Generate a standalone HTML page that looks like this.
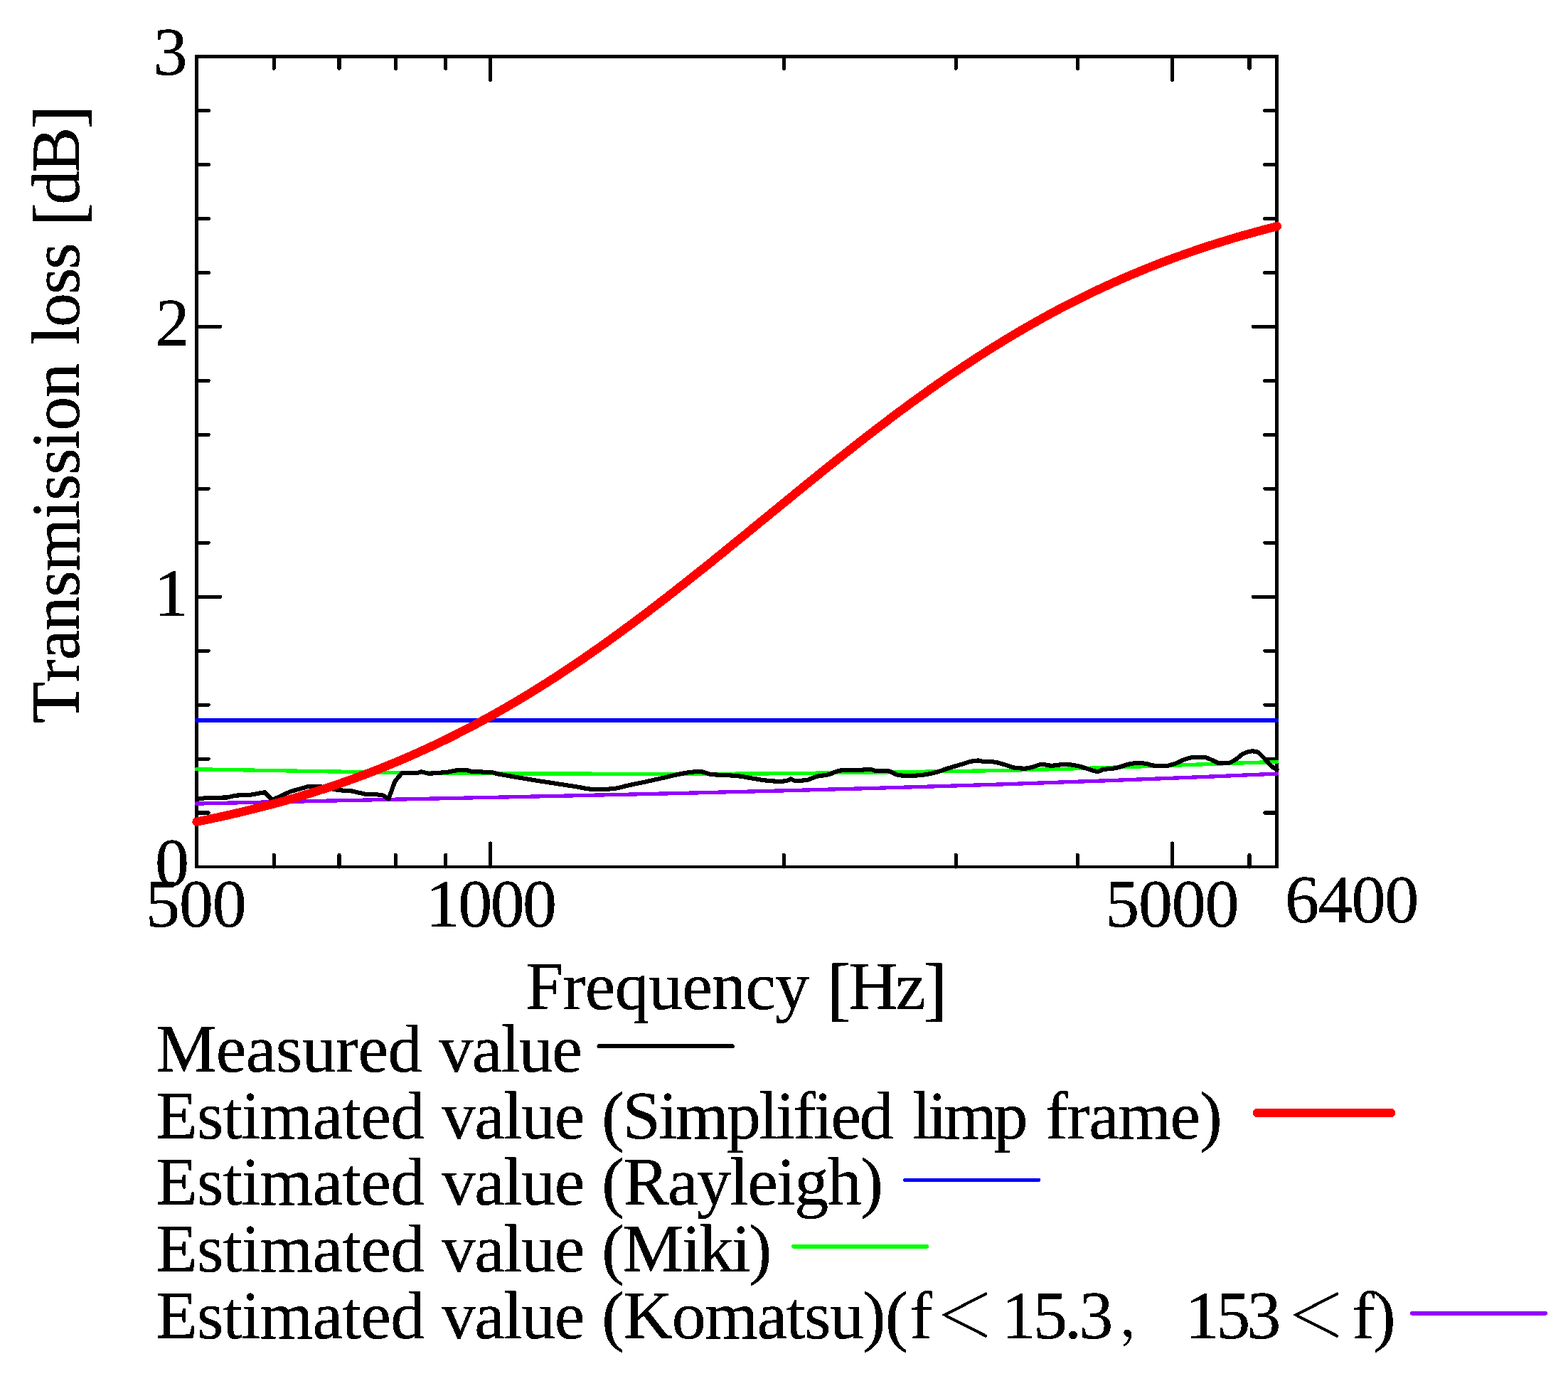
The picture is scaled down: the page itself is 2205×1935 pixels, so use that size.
<!DOCTYPE html>
<html lang="en"><head><meta charset="utf-8"><title>Transmission loss</title>
<style>
html,body{margin:0;padding:0;background:#fff;}
body{width:2205px;height:1935px;overflow:hidden;}
svg{display:block;}
text{font-family:"Liberation Serif","Noto Serif CJK SC",serif;font-size:96px;fill:#000;font-kerning:none;font-variant-ligatures:none;white-space:pre;}
.cjk{font-family:"Noto Serif CJK SC","Noto Serif CJK JP","Liberation Serif",serif;letter-spacing:0;}
</style></head><body>
<svg width="2205" height="1935" viewBox="0 0 2205 1935" shape-rendering="crispEdges">
<rect width="2205" height="1935" fill="#fff"/>
<g stroke="#000" fill="none">
<rect x="276.5" y="79.5" width="1519.0" height="1139.5" stroke-width="4.9" stroke-linejoin="miter"/>
<clipPath id="fr"><rect x="274.05" y="77.05" width="1523.9" height="1144.4"/></clipPath>
<path clip-path="url(#fr)" stroke-width="5.2" stroke-linecap="round" d="M276.5,1143.0h16.6 M1795.5,1143.0h-16.6 M276.5,1067.1h16.6 M1795.5,1067.1h-16.6 M276.5,991.1h16.6 M1795.5,991.1h-16.6 M276.5,915.1h16.6 M1795.5,915.1h-16.6 M276.5,839.2h33.0 M1795.5,839.2h-33.0 M276.5,763.2h16.6 M1795.5,763.2h-16.6 M276.5,687.2h16.6 M1795.5,687.2h-16.6 M276.5,611.3h16.6 M1795.5,611.3h-16.6 M276.5,535.3h16.6 M1795.5,535.3h-16.6 M276.5,459.3h33.0 M1795.5,459.3h-33.0 M276.5,383.4h16.6 M1795.5,383.4h-16.6 M276.5,307.4h16.6 M1795.5,307.4h-16.6 M276.5,231.4h16.6 M1795.5,231.4h-16.6 M276.5,155.5h16.6 M1795.5,155.5h-16.6 M385.1,79.5v16.6 M385.1,1219.0v-16.6 M477.0,79.5v16.6 M477.0,1219.0v-16.6 M556.5,79.5v16.6 M556.5,1219.0v-16.6 M626.7,79.5v16.6 M626.7,1219.0v-16.6 M689.5,79.5v33.0 M689.5,1219.0v-33.0 M1102.5,79.5v16.6 M1102.5,1219.0v-16.6 M1344.1,79.5v16.6 M1344.1,1219.0v-16.6 M1515.5,79.5v16.6 M1515.5,1219.0v-16.6 M1648.4,79.5v33.0 M1648.4,1219.0v-33.0 M1757.0,79.5v16.6 M1757.0,1219.0v-16.6"/>
</g>
<g fill="none" stroke-linecap="round" stroke-linejoin="round">
<path stroke="#9400ff" stroke-width="5.3" d="M276.5,1130.1 L302.2,1129.5 L328.0,1129.0 L353.7,1128.4 L379.5,1127.9 L405.2,1127.3 L431.0,1126.8 L456.7,1126.2 L482.5,1125.7 L508.2,1125.2 L534.0,1124.6 L559.7,1124.1 L585.4,1123.6 L611.2,1123.0 L636.9,1122.5 L662.7,1121.9 L688.4,1121.4 L714.2,1120.9 L739.9,1120.3 L765.7,1119.7 L791.4,1119.2 L817.2,1118.6 L842.9,1118.0 L868.7,1117.5 L894.4,1116.9 L920.1,1116.3 L945.9,1115.7 L971.6,1115.1 L997.4,1114.5 L1023.1,1113.8 L1048.9,1113.2 L1074.6,1112.5 L1100.4,1111.9 L1126.1,1111.2 L1151.9,1110.5 L1177.6,1109.8 L1203.3,1109.1 L1229.1,1108.4 L1254.8,1107.6 L1280.6,1106.9 L1306.3,1106.1 L1332.1,1105.3 L1357.8,1104.5 L1383.6,1103.7 L1409.3,1102.9 L1435.1,1102.0 L1460.8,1101.1 L1486.6,1100.2 L1512.3,1099.3 L1538.0,1098.4 L1563.8,1097.5 L1589.5,1096.5 L1615.3,1095.5 L1641.0,1094.5 L1666.8,1093.5 L1692.5,1092.5 L1718.3,1091.4 L1744.0,1090.3 L1769.8,1089.2 L1795.5,1088.1"/>
<path stroke="#00ff00" stroke-width="5.3" d="M276.5,1081.8 L302.2,1082.2 L328.0,1082.6 L353.7,1083.1 L379.5,1083.5 L405.2,1083.9 L431.0,1084.4 L456.7,1084.8 L482.5,1085.2 L508.2,1085.6 L534.0,1086.0 L559.7,1086.4 L585.4,1086.7 L611.2,1087.0 L636.9,1087.3 L662.7,1087.5 L688.4,1087.7 L714.2,1087.8 L739.9,1087.9 L765.7,1088.0 L791.4,1088.1 L817.2,1088.1 L842.9,1088.2 L868.7,1088.2 L894.4,1088.3 L920.1,1088.3 L945.9,1088.3 L971.6,1088.3 L997.4,1088.3 L1023.1,1088.2 L1048.9,1088.1 L1074.6,1087.9 L1100.4,1087.7 L1126.1,1087.4 L1151.9,1087.1 L1177.6,1086.8 L1203.3,1086.5 L1229.1,1086.1 L1254.8,1085.8 L1280.6,1085.4 L1306.3,1085.1 L1332.1,1084.7 L1357.8,1084.3 L1383.6,1083.9 L1409.3,1083.4 L1435.1,1082.9 L1460.8,1082.2 L1486.6,1081.6 L1512.3,1080.8 L1538.0,1080.0 L1563.8,1079.2 L1589.5,1078.4 L1615.3,1077.5 L1641.0,1076.6 L1666.8,1075.7 L1692.5,1074.8 L1718.3,1073.9 L1744.0,1073.0 L1769.8,1072.2 L1795.5,1071.4"/>
<path stroke="#0000ff" stroke-width="5.6" d="M276.5,1012.9 H1795.5"/>
<path stroke="#000" stroke-width="6.1" d="M277.0,1123.6 L278.9,1123.6 L290.7,1121.8 L319.1,1121.5 L330.8,1118.6 L350.4,1118.1 L372.4,1114.1 L383.1,1124.9 L408.1,1113.2 L432.6,1106.3 L451.1,1106.3 L476.0,1111.2 L493.6,1112.2 L515.1,1117.0 L527.9,1117.0 L538.6,1118.5 L546.5,1123.4 L550.4,1112.6 L555.3,1098.9 L565.0,1087.2 L586.6,1087.2 L592.4,1085.2 L602.0,1087.7 L605.0,1087.6 L608.0,1087.5 L611.0,1087.3 L614.0,1087.1 L617.0,1086.9 L620.0,1086.6 L623.0,1086.3 L626.0,1086.0 L629.0,1085.7 L632.0,1085.2 L635.0,1084.6 L638.0,1084.0 L641.0,1083.5 L644.0,1083.3 L647.0,1083.3 L650.0,1083.3 L653.0,1083.3 L656.0,1083.3 L659.0,1083.6 L662.0,1084.6 L665.0,1085.2 L668.0,1085.2 L671.0,1085.2 L674.0,1085.2 L677.0,1085.3 L680.0,1085.9 L683.0,1086.1 L686.0,1085.9 L689.0,1085.7 L692.0,1086.0 L695.0,1086.9 L698.0,1087.8 L701.0,1088.5 L704.0,1089.1 L707.0,1089.6 L710.0,1090.1 L713.0,1090.6 L716.0,1091.1 L719.0,1091.7 L722.0,1092.2 L725.0,1092.7 L728.0,1093.2 L731.0,1093.7 L734.0,1094.2 L737.0,1094.7 L740.0,1095.2 L743.0,1095.7 L746.0,1096.2 L749.0,1096.7 L752.0,1097.2 L755.0,1097.7 L758.0,1098.2 L761.0,1098.7 L764.0,1099.1 L767.0,1099.6 L770.0,1100.1 L773.0,1100.5 L776.0,1101.0 L779.0,1101.4 L782.0,1101.9 L785.0,1102.4 L788.0,1102.8 L791.0,1103.3 L794.0,1103.8 L797.0,1104.2 L800.0,1104.7 L803.0,1105.2 L806.0,1105.6 L809.0,1106.1 L812.0,1106.6 L815.0,1107.1 L818.0,1107.7 L821.0,1108.3 L824.0,1108.9 L827.0,1109.3 L830.0,1109.6 L833.0,1109.7 L836.0,1109.8 L839.0,1109.9 L842.0,1110.0 L845.0,1110.0 L848.0,1110.0 L851.0,1109.9 L854.0,1109.7 L857.0,1109.5 L860.0,1109.3 L863.0,1109.1 L866.0,1108.6 L869.0,1108.1 L872.0,1107.4 L875.0,1106.6 L878.0,1105.8 L881.0,1105.0 L884.0,1104.3 L887.0,1103.7 L890.0,1103.1 L893.0,1102.4 L896.0,1101.8 L899.0,1101.2 L902.0,1100.6 L905.0,1100.0 L908.0,1099.3 L911.0,1098.7 L914.0,1098.0 L917.0,1097.4 L920.0,1096.7 L923.0,1096.0 L926.0,1095.3 L929.0,1094.6 L932.0,1094.0 L935.0,1093.3 L938.0,1092.6 L941.0,1091.8 L944.0,1091.1 L947.0,1090.4 L950.0,1089.7 L953.0,1089.1 L956.0,1088.5 L959.0,1087.9 L962.0,1087.3 L965.0,1086.8 L968.0,1086.3 L971.0,1085.9 L974.0,1085.6 L977.0,1085.4 L980.0,1085.2 L983.0,1085.1 L986.0,1085.1 L989.0,1085.7 L992.0,1086.6 L995.0,1087.7 L998.0,1088.6 L1001.0,1089.0 L1004.0,1089.3 L1007.0,1089.5 L1010.0,1089.6 L1013.0,1089.7 L1016.0,1089.9 L1019.0,1090.1 L1022.0,1090.2 L1025.0,1090.4 L1028.0,1090.5 L1031.0,1090.7 L1034.0,1090.9 L1037.0,1091.1 L1040.0,1091.5 L1043.0,1091.9 L1046.0,1092.4 L1049.0,1092.9 L1052.0,1093.5 L1055.0,1094.1 L1058.0,1094.6 L1061.0,1095.1 L1064.0,1095.5 L1067.0,1096.1 L1070.0,1096.6 L1073.0,1097.0 L1076.0,1097.4 L1079.0,1097.7 L1082.0,1098.0 L1085.0,1098.2 L1088.0,1098.5 L1091.0,1098.6 L1094.0,1098.8 L1097.0,1098.8 L1100.0,1098.7 L1103.0,1098.4 L1106.0,1098.0 L1109.0,1096.9 L1112.0,1095.3 L1115.0,1096.7 L1118.0,1098.2 L1121.0,1098.1 L1124.0,1098.0 L1127.0,1097.7 L1130.0,1097.4 L1133.0,1097.1 L1136.0,1096.6 L1139.0,1095.6 L1142.0,1094.3 L1145.0,1093.0 L1148.0,1092.0 L1151.0,1091.4 L1154.0,1090.9 L1157.0,1090.5 L1160.0,1090.1 L1163.0,1089.6 L1166.0,1088.9 L1169.0,1087.9 L1172.0,1086.5 L1175.0,1085.2 L1178.0,1084.4 L1181.0,1083.7 L1184.0,1083.1 L1187.0,1082.7 L1190.0,1082.6 L1193.0,1082.7 L1196.0,1083.0 L1199.0,1083.2 L1202.0,1083.2 L1205.0,1083.1 L1208.0,1082.9 L1211.0,1082.7 L1214.0,1082.5 L1217.0,1082.4 L1220.0,1082.3 L1223.0,1082.2 L1226.0,1082.4 L1229.0,1083.4 L1232.0,1084.1 L1235.0,1084.0 L1238.0,1083.8 L1241.0,1083.8 L1244.0,1083.9 L1247.0,1084.2 L1250.0,1084.5 L1253.0,1085.4 L1256.0,1086.9 L1259.0,1088.5 L1262.0,1089.7 L1265.0,1090.2 L1268.0,1090.5 L1271.0,1090.8 L1274.0,1090.9 L1277.0,1091.0 L1280.0,1091.0 L1283.0,1090.9 L1286.0,1090.7 L1289.0,1090.5 L1292.0,1090.2 L1295.0,1090.0 L1298.0,1089.7 L1301.0,1089.3 L1304.0,1088.8 L1307.0,1088.2 L1310.0,1087.6 L1313.0,1087.0 L1316.0,1086.2 L1319.0,1085.3 L1322.0,1084.3 L1325.0,1083.3 L1328.0,1082.2 L1331.0,1081.2 L1334.0,1080.2 L1337.0,1079.3 L1340.0,1078.4 L1343.0,1077.5 L1346.0,1076.6 L1349.0,1075.7 L1352.0,1074.9 L1355.0,1073.9 L1358.0,1072.9 L1361.0,1071.9 L1364.0,1071.1 L1367.0,1070.5 L1370.0,1070.0 L1373.0,1069.6 L1376.0,1069.5 L1379.0,1070.2 L1382.0,1071.0 L1385.0,1071.4 L1388.0,1071.4 L1391.0,1071.4 L1394.0,1071.4 L1397.0,1071.4 L1400.0,1071.8 L1403.0,1072.5 L1406.0,1073.4 L1409.0,1074.2 L1412.0,1075.1 L1415.0,1076.0 L1418.0,1077.0 L1421.0,1077.9 L1424.0,1078.9 L1427.0,1079.8 L1430.0,1080.2 L1433.0,1080.4 L1436.0,1080.5 L1439.0,1080.6 L1442.0,1080.6 L1445.0,1080.3 L1448.0,1079.7 L1451.0,1078.9 L1454.0,1078.1 L1457.0,1077.1 L1460.0,1075.9 L1463.0,1075.0 L1466.0,1074.8 L1469.0,1075.2 L1472.0,1075.8 L1475.0,1076.4 L1478.0,1076.7 L1481.0,1076.6 L1484.0,1076.4 L1487.0,1076.0 L1490.0,1075.5 L1493.0,1075.1 L1496.0,1074.9 L1499.0,1074.8 L1502.0,1075.0 L1505.0,1075.3 L1508.0,1075.7 L1511.0,1076.2 L1514.0,1076.7 L1517.0,1077.4 L1520.0,1078.2 L1523.0,1079.2 L1526.0,1080.1 L1529.0,1081.0 L1532.0,1081.9 L1535.0,1082.9 L1538.0,1083.9 L1541.0,1084.6 L1544.0,1085.1 L1547.0,1084.1 L1550.0,1082.4 L1553.0,1081.9 L1556.0,1081.5 L1559.0,1081.2 L1562.0,1081.0 L1565.0,1080.7 L1568.0,1080.3 L1571.0,1079.7 L1574.0,1078.9 L1577.0,1077.8 L1580.0,1076.8 L1583.0,1075.8 L1586.0,1074.9 L1589.0,1074.3 L1592.0,1073.7 L1595.0,1073.2 L1598.0,1072.9 L1601.0,1072.8 L1604.0,1073.0 L1607.0,1073.3 L1610.0,1073.7 L1613.0,1074.2 L1616.0,1075.0 L1619.0,1075.8 L1622.0,1076.5 L1625.0,1076.8 L1628.0,1077.0 L1631.0,1077.2 L1634.0,1077.3 L1637.0,1077.3 L1640.0,1077.1 L1643.0,1076.6 L1646.0,1075.8 L1649.0,1075.0 L1652.0,1074.1 L1655.0,1072.8 L1658.0,1071.4 L1661.0,1069.9 L1664.0,1068.7 L1667.0,1067.7 L1670.0,1066.7 L1673.0,1065.9 L1676.0,1065.2 L1679.0,1065.0 L1682.0,1064.8 L1685.0,1064.7 L1688.0,1064.6 L1691.0,1064.6 L1694.0,1064.8 L1697.0,1065.7 L1700.0,1066.9 L1703.0,1068.2 L1706.0,1069.5 L1709.0,1071.1 L1712.0,1072.6 L1715.0,1073.4 L1718.0,1073.4 L1721.0,1073.4 L1724.0,1073.4 L1727.0,1073.2 L1730.0,1072.3 L1733.0,1070.8 L1736.0,1069.0 L1739.0,1067.2 L1742.0,1064.7 L1745.0,1062.1 L1748.0,1060.1 L1751.0,1058.8 L1754.0,1057.7 L1757.0,1056.8 L1760.0,1056.4 L1763.0,1056.5 L1766.0,1056.8 L1769.0,1057.9 L1772.0,1060.4 L1775.0,1063.4 L1778.0,1066.4 L1781.0,1069.9 L1784.0,1073.4 L1787.0,1076.5 L1790.0,1078.9 L1793.0,1080.8 L1795.7,1082.2"/>
<path stroke="#ff0000" stroke-width="12.2" d="M276.5,1155.6 L286.1,1153.7 L295.6,1151.7 L305.2,1149.7 L314.7,1147.6 L324.3,1145.4 L333.8,1143.2 L343.4,1141.0 L352.9,1138.6 L362.5,1136.2 L372.1,1133.8 L381.6,1131.3 L391.2,1128.7 L400.7,1126.0 L410.3,1123.3 L419.8,1120.5 L429.4,1117.6 L439.0,1114.7 L448.5,1111.7 L458.1,1108.6 L467.6,1105.4 L477.2,1102.1 L486.7,1098.8 L496.3,1095.4 L505.8,1091.9 L515.4,1088.3 L525.0,1084.6 L534.5,1080.9 L544.1,1077.0 L553.6,1073.1 L563.2,1069.1 L572.7,1065.0 L582.3,1060.8 L591.8,1056.5 L601.4,1052.1 L611.0,1047.7 L620.5,1043.1 L630.1,1038.5 L639.6,1033.7 L649.2,1028.8 L658.7,1023.9 L668.3,1018.9 L677.9,1013.7 L687.4,1008.5 L697.0,1003.2 L706.5,997.7 L716.1,992.2 L725.6,986.6 L735.2,980.9 L744.7,975.1 L754.3,969.2 L763.9,963.2 L773.4,957.1 L783.0,951.0 L792.5,944.7 L802.1,938.4 L811.6,931.9 L821.2,925.4 L830.7,918.8 L840.3,912.1 L849.9,905.4 L859.4,898.5 L869.0,891.6 L878.5,884.6 L888.1,877.5 L897.6,870.4 L907.2,863.2 L916.8,855.9 L926.3,848.6 L935.9,841.2 L945.4,833.8 L955.0,826.3 L964.5,818.8 L974.1,811.2 L983.6,803.6 L993.2,796.0 L1002.8,788.3 L1012.3,780.5 L1021.9,772.8 L1031.4,765.0 L1041.0,757.3 L1050.5,749.5 L1060.1,741.6 L1069.6,733.8 L1079.2,726.0 L1088.8,718.2 L1098.3,710.4 L1107.9,702.6 L1117.4,694.8 L1127.0,687.0 L1136.5,679.2 L1146.1,671.5 L1155.6,663.8 L1165.2,656.1 L1174.8,648.5 L1184.3,640.9 L1193.9,633.4 L1203.4,625.8 L1213.0,618.4 L1222.5,611.0 L1232.1,603.6 L1241.7,596.3 L1251.2,589.1 L1260.8,581.9 L1270.3,574.8 L1279.9,567.8 L1289.4,560.8 L1299.0,554.0 L1308.5,547.1 L1318.1,540.4 L1327.7,533.8 L1337.2,527.2 L1346.8,520.7 L1356.3,514.3 L1365.9,508.0 L1375.4,501.8 L1385.0,495.7 L1394.5,489.6 L1404.1,483.7 L1413.7,477.8 L1423.2,472.1 L1432.8,466.4 L1442.3,460.8 L1451.9,455.4 L1461.4,450.0 L1471.0,444.7 L1480.6,439.5 L1490.1,434.4 L1499.7,429.4 L1509.2,424.5 L1518.8,419.7 L1528.3,415.0 L1537.9,410.4 L1547.4,405.9 L1557.0,401.5 L1566.6,397.1 L1576.1,392.9 L1585.7,388.7 L1595.2,384.7 L1604.8,380.7 L1614.3,376.8 L1623.9,373.0 L1633.4,369.3 L1643.0,365.7 L1652.6,362.1 L1662.1,358.7 L1671.7,355.3 L1681.2,352.0 L1690.8,348.8 L1700.3,345.6 L1709.9,342.6 L1719.5,339.6 L1729.0,336.7 L1738.6,333.8 L1748.1,331.1 L1757.7,328.4 L1767.2,325.8 L1776.8,323.2 L1786.3,320.7 L1795.9,318.3"/>
</g>
<filter id="bin" x="0" y="0" width="100%" height="100%" filterUnits="userSpaceOnUse" color-interpolation-filters="sRGB"><feComponentTransfer><feFuncA type="discrete" tableValues="0 1 1 1"/></feComponentTransfer></filter>
<g filter="url(#bin)">
<text y="105.0"><tspan x="215.50" y="105.0">3</tspan></text>
<text y="486.0"><tspan x="218.50" y="486.0">2</tspan></text>
<text y="866.0"><tspan x="217.00" y="866.0">1</tspan></text>
<text y="1245.2"><tspan x="218.00" y="1245.2">0</tspan></text>
<text y="1303.0"><tspan x="205.00" y="1303.0" style="letter-spacing:-1.10px">500</tspan></text>
<text y="1303.0"><tspan x="599.00" y="1303.0" style="letter-spacing:-2.67px">1000</tspan></text>
<text y="1303.0"><tspan x="1554.30" y="1303.0" style="letter-spacing:-1.27px">5000</tspan></text>
<text y="1296.6"><tspan x="1807.00" y="1296.6" style="letter-spacing:-1.27px">6400</tspan></text>
<text y="1418.6"><tspan x="738.90" y="1418.6" style="letter-spacing:-0.73px">Frequency</tspan> <tspan x="1163.20" y="1418.6" style="letter-spacing:-3.33px"><tspan font-size="100.4" dy="5.0">[</tspan><tspan dy="-5.0">Hz</tspan><tspan font-size="100.4" dy="5.0">]</tspan></tspan></text>
<text transform="translate(110.7,0) rotate(-90)" y="0"><tspan x="-1016.90" y="0" style="letter-spacing:-1.02px">Transmission</tspan> <tspan x="-484.80" y="0" style="letter-spacing:-2.00px">loss</tspan> <tspan x="-318.45" y="0" style="letter-spacing:-2.87px"><tspan font-size="100.4" dy="5.0">[</tspan><tspan dy="-5.0">dB</tspan><tspan font-size="100.4" dy="5.0">]</tspan></tspan></text>
<text y="1506.7"><tspan x="219.10" y="1506.7" style="letter-spacing:-0.60px">Measured</tspan> <tspan x="617.20" y="1506.7" style="letter-spacing:-1.55px">value</tspan></text>
<text y="1600.8"><tspan x="219.10" y="1600.8" style="letter-spacing:-0.73px">Estimated</tspan> <tspan x="620.90" y="1600.8" style="letter-spacing:-1.60px">value</tspan> <tspan x="846.20" y="1600.8" style="letter-spacing:-2.70px">(Simplified</tspan> <tspan x="1282.90" y="1600.8" style="letter-spacing:-4.47px">limp</tspan> <tspan x="1470.00" y="1600.8" style="letter-spacing:-1.40px">frame)</tspan></text>
<text y="1694.2"><tspan x="219.10" y="1694.2" style="letter-spacing:-0.73px">Estimated</tspan> <tspan x="620.90" y="1694.2" style="letter-spacing:-1.60px">value</tspan> <tspan x="846.20" y="1694.2" style="letter-spacing:-1.64px">(Rayleigh)</tspan></text>
<text y="1787.8"><tspan x="219.10" y="1787.8" style="letter-spacing:-0.73px">Estimated</tspan> <tspan x="620.90" y="1787.8" style="letter-spacing:-1.60px">value</tspan> <tspan x="846.20" y="1787.8" style="letter-spacing:-2.32px">(Miki)</tspan></text>
<text y="1881.8"><tspan x="219.10" y="1881.8" style="letter-spacing:-0.73px">Estimated</tspan> <tspan x="620.90" y="1881.8" style="letter-spacing:-1.60px">value</tspan> <tspan x="846.20" y="1881.8" style="letter-spacing:-1.40px">(Komatsu)</tspan><tspan x="1245.00" y="1881.8" style="letter-spacing:2.30px">(f</tspan><tspan class="cjk" x="1314.50" y="1880.30" font-size="84.06">＜</tspan><tspan x="1408.70" y="1881.8" style="letter-spacing:-3.80px">15.3</tspan><tspan class="cjk" x="1574.00" y="1878.30" font-size="73.75">，</tspan><tspan x="1667.10" y="1881.8" style="letter-spacing:-4.90px">153</tspan><tspan class="cjk" x="1808.50" y="1880.30" font-size="84.06">＜</tspan><tspan x="1901.30" y="1881.8" style="letter-spacing:-2.60px">f)</tspan></text>
</g>
<g fill="none" stroke-linecap="round">
<path stroke="#000" stroke-width="5.9" d="M842.4,1471.3 H1029.8"/>
<path stroke="#ff0000" stroke-width="12.5" d="M1768.2,1565 H1955.8"/>
<path stroke="#0000ff" stroke-width="5.6" d="M1272.9,1659.3 H1460.4"/>
<path stroke="#00ff00" stroke-width="5.6" d="M1116.0,1752.8 H1303.3"/>
<path stroke="#9400ff" stroke-width="5.6" d="M1985.5,1846.8 H2173.2"/>
</g>
</svg></body></html>
